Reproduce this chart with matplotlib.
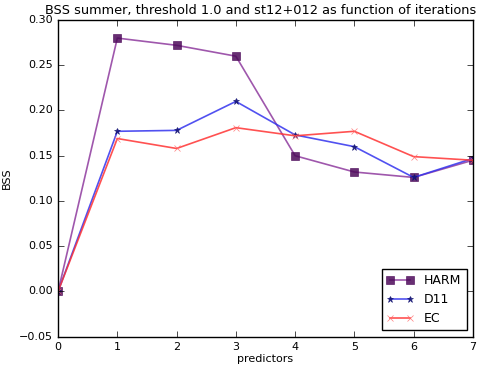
import matplotlib
matplotlib.use("Agg")
import matplotlib.pyplot as plt

plt.style.use("classic")

predictors = [0, 1, 2, 3, 4, 5, 6, 7]
harm = [0.0, 0.280, 0.272, 0.260, 0.150, 0.132, 0.126, 0.145]
d11 = [0.0, 0.177, 0.178, 0.210, 0.173, 0.160, 0.126, 0.147]
ec = [0.0, 0.169, 0.158, 0.181, 0.172, 0.177, 0.149, 0.145]

fig = plt.figure(figsize=(4.84, 3.70), dpi=100, facecolor="white")
ax = fig.add_axes([0.12, 0.09, 0.857, 0.856])

ax.plot(predictors, harm, color="#8e3a9e", alpha=0.85, lw=1.2, marker="s",
        ms=5.5, mfc="#4d0a5a", mec="#4d0a5a", label="HARM")
ax.plot(predictors, d11, color="#3333ee", alpha=0.85, lw=1.2, marker="*",
        ms=5, mfc="#101070", mec="#101070", label="D11")
ax.plot(predictors, ec, color="#ff3333", alpha=0.85, lw=1.2, marker="x",
        ms=5, mfc="#ff6666", mec="#ff6666", label="EC")

ax.set_xlim(0, 7)
ax.set_ylim(-0.05, 0.30)
ax.set_xticks(range(0, 8))
ax.set_yticks([-0.05, 0.0, 0.05, 0.10, 0.15, 0.20, 0.25, 0.30])
ax.tick_params(labelsize=8)
ax.set_xlabel("predictors", fontsize=8, labelpad=1)
ax.set_ylabel("BSS", fontsize=8)
ax.set_title("BSS summer, threshold 1.0 and st12+012 as function of iterations",
             fontsize=9.3, pad=4, x=0.489)
ax.legend(loc="lower right", fontsize=9, numpoints=2, handlelength=2.2)

fig.savefig("out.png", dpi=100)
